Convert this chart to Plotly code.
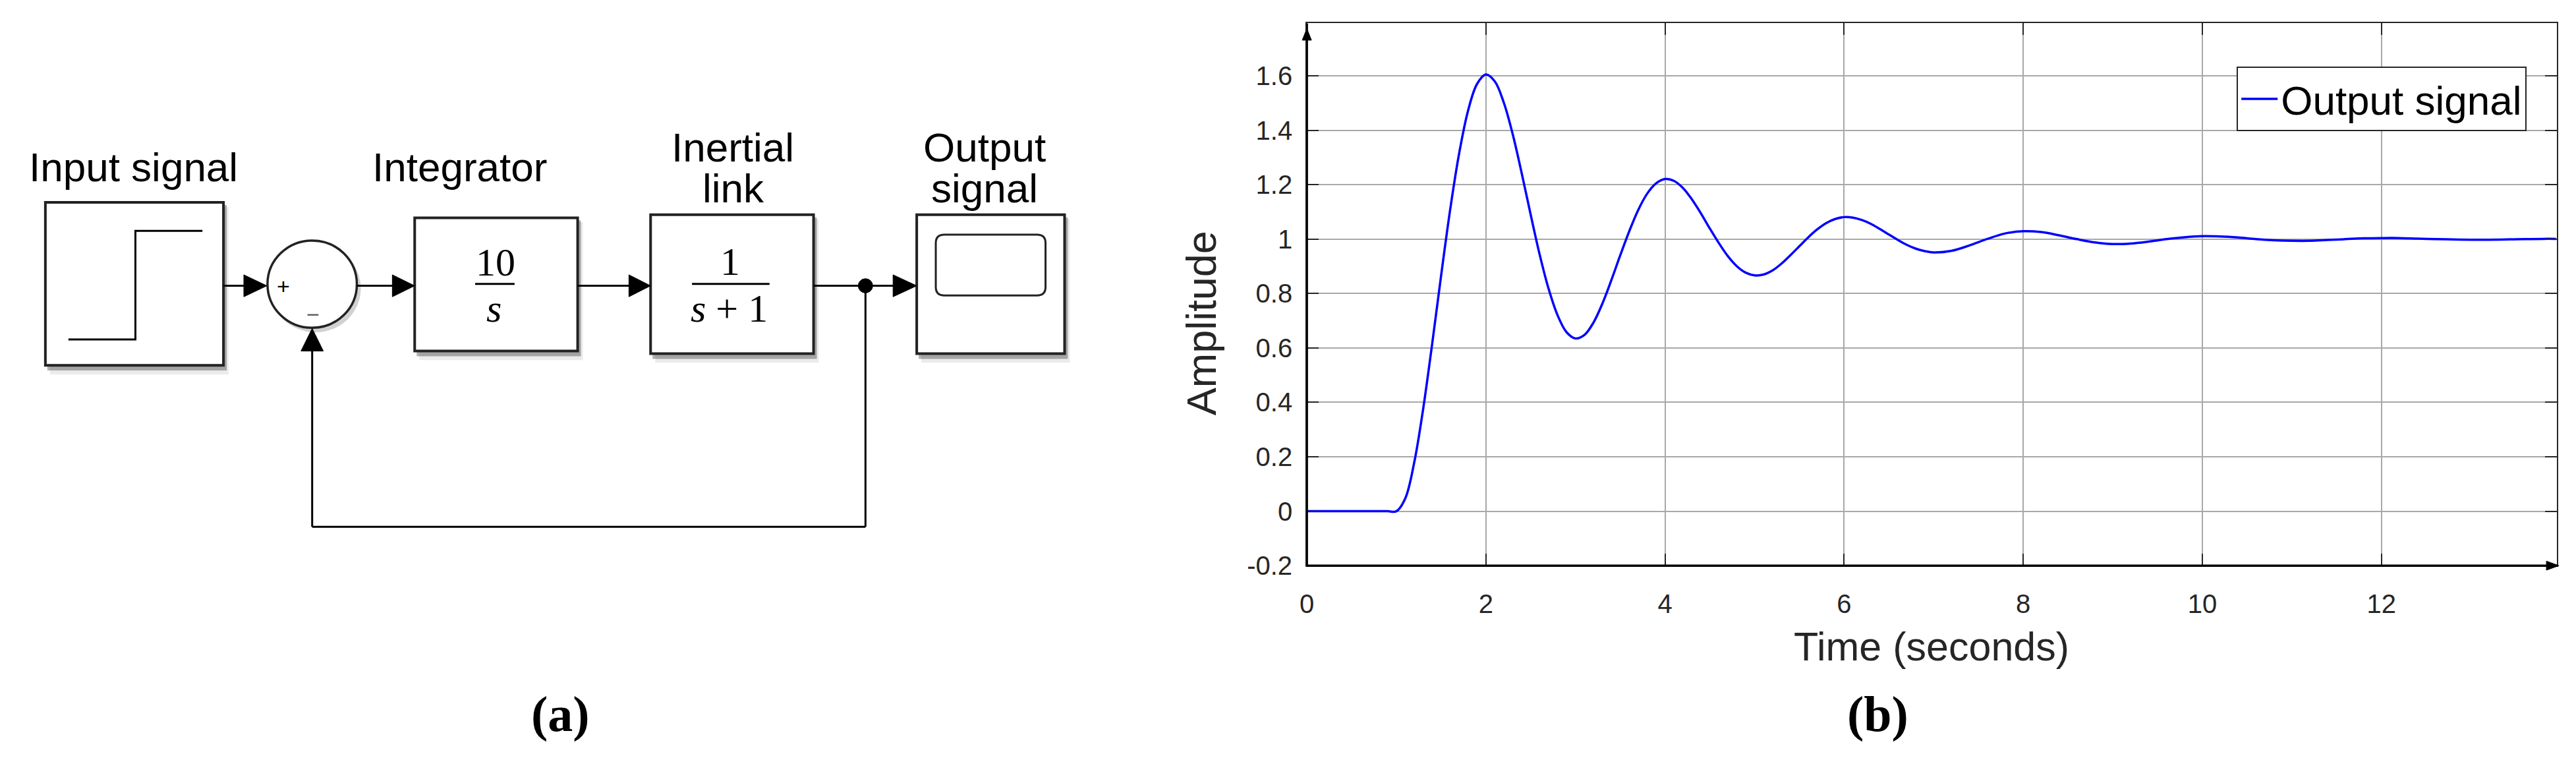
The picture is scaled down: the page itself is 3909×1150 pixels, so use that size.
import plotly.graph_objects as go

# ---------------- data ----------------
time_s = [0, 0.5, 0.9,
          1.0, 1.1, 1.2, 1.3, 1.4, 1.5, 1.6, 1.7, 1.8, 1.9,
          2.0, 2.1, 2.2, 2.3, 2.4, 2.5, 2.6, 2.7, 2.8, 2.9,
          3.0, 3.1, 3.2, 3.3, 3.4, 3.5, 3.6, 3.7, 3.8, 3.9,
          4.0, 4.1, 4.2, 4.3, 4.4, 4.5, 4.6, 4.7, 4.8, 4.9,
          5.0, 5.1, 5.2, 5.3, 5.4, 5.5, 5.6, 5.7, 5.8, 5.9,
          6.0, 6.1, 6.2, 6.3, 6.4, 6.5, 6.6, 6.7, 6.8, 6.9,
          7.0, 7.2, 7.4, 7.6, 7.8, 8.0, 8.2, 8.4, 8.6, 8.8,
          9.0, 9.2, 9.4, 9.6, 9.8, 10.0, 10.2, 10.4, 10.6, 10.8,
          11.0, 11.2, 11.4, 11.6, 11.8, 12.0, 12.2, 12.4, 12.6, 12.8,
          13.0, 13.2, 13.4, 13.6, 13.8, 13.95]
amplitude = [0, 0, 0,
             0, 0.048, 0.181, 0.379, 0.617, 0.868, 1.108, 1.314, 1.472, 1.570,
             1.605, 1.579, 1.501, 1.384, 1.241, 1.089, 0.943, 0.817, 0.720, 0.658,
             0.635, 0.648, 0.693, 0.763, 0.849, 0.941, 1.029, 1.107, 1.167, 1.205,
             1.221, 1.214, 1.188, 1.146, 1.095, 1.039, 0.986, 0.938, 0.901, 0.877,
             0.867, 0.870, 0.885, 0.910, 0.941, 0.974, 1.007, 1.036, 1.059, 1.074,
             1.081, 1.079, 1.070, 1.056, 1.037, 1.017, 0.997, 0.979, 0.965, 0.956,
             0.951, 0.957, 0.977, 1.001, 1.021, 1.029, 1.026, 1.014, 1.000, 0.988,
             0.982, 0.984, 0.991, 1.000, 1.007, 1.011, 1.010, 1.006, 1.000, 0.996,
             0.994, 0.994, 0.997, 1.000, 1.003, 1.004, 1.004, 1.002, 1.000, 0.999,
             0.998, 0.998, 0.999, 1.000, 1.001, 1.001]
series_name = "Output signal"
x_ticks = [0, 2, 4, 6, 8, 10, 12]
x_ticktext = ["0", "2", "4", "6", "8", "10", "12"]
y_ticks = [-0.2, 0, 0.2, 0.4, 0.6, 0.8, 1.0, 1.2, 1.4, 1.6]
y_ticktext = ["-0.2", "0", "0.2", "0.4", "0.6", "0.8", "1", "1.2", "1.4", "1.6"]
x_title = "Time (seconds)"
y_title = "Amplitude"
block_labels = ["Input signal", "Integrator", "Inertial", "link", "Output", "signal"]
panel_labels = ["(a)", "(b)"]

# page is 3909x1150; the html body has an 8 px margin, so the figure is
# placed at (8, 8) and sized to end inside the window
OFF = 8
FW, FH = 3909 - 2 * OFF, 1150 - 2 * OFF
SANS = "Liberation Sans, Arial, Helvetica, sans-serif"
SERIF = "Liberation Serif, Times New Roman, serif"
INK = "#222222"


def fx(p):  # page pixel -> paper fraction (x)
    return (p - OFF) / FW


def fy(p):  # page pixel -> paper fraction (y)
    return 1 - (p - OFF) / FH


# plot area in page pixels
PL, PR, PT, PB = 1977.7, 3880.0, 36.0, 875.0

fig = go.Figure()
fig.add_trace(go.Scatter(
    x=time_s, y=amplitude, mode="lines", name=series_name,
    line=dict(color="#0000ff", width=3.5, shape="spline", smoothing=1.0),
    xaxis="x", yaxis="y"))

shapes = []
annotations = []


def P(**kw):
    d = dict(xref="x2", yref="y2", layer="above")
    d.update(kw)
    return d


def box(x0, y0, x1, y1):
    shapes.append(P(type="rect", x0=x0 + 7, y0=y0 + 7, x1=x1 + 8, y1=y1 + 14,
                    fillcolor="rgba(0,0,0,0.08)", line=dict(width=0)))
    shapes.append(P(type="rect", x0=x0 + 3, y0=y0 + 4, x1=x1 + 5, y1=y1 + 8,
                    fillcolor="rgba(0,0,0,0.30)", line=dict(width=0)))
    shapes.append(P(type="rect", x0=x0, y0=y0, x1=x1, y1=y1,
                    fillcolor="white", line=dict(color=INK, width=4)))


def seg(x0, y0, x1, y1, w=3):
    shapes.append(P(type="line", x0=x0, y0=y0, x1=x1, y1=y1,
                    line=dict(color="black", width=w)))


def arrow_right(xb, xt, y, hh=17):
    shapes.append(P(type="path", path=f"M{xb},{y-hh} L{xt},{y} L{xb},{y+hh} Z",
                    fillcolor="black", line=dict(color="black", width=1)))


def text(x, y, s, size, family=SANS, color="black", angle=0):
    annotations.append(dict(xref="x2", yref="y2", x=x, y=y, text=s, showarrow=False,
                            xanchor="center", yanchor="middle", textangle=angle,
                            font=dict(family=family, size=size, color=color)))


YL = 442  # signal line level
# blocks
box(58, 313, 329, 565)
box(620, 337, 868, 543)
box(979, 332, 1227, 547)
box(1384, 332, 1609, 547)
# step symbol
shapes.append(P(type="path", path="M93,525 L195,525 L195,357 L297,357",
                line=dict(color="black", width=3)))
# sum circle
shapes.append(P(type="circle", x0=400, y0=378, x1=538, y1=514,
                fillcolor="rgba(0,0,0,0.18)", line=dict(width=0)))
shapes.append(P(type="circle", x0=396, y0=372, x1=532, y1=507,
                fillcolor="white", line=dict(color=INK, width=3.5)))
# scope screen
shapes.append(P(type="path",
                path="M1426,363 L1567,363 Q1580,363 1580,376 L1580,444 Q1580,457 1567,457 "
                     "L1426,457 Q1413,457 1413,444 L1413,376 Q1413,363 1426,363 Z",
                fillcolor="white", line=dict(color=INK, width=3)))
# forward path
seg(329, YL, 362, YL); arrow_right(360, 395, YL)
seg(532, YL, 588, YL); arrow_right(586, 620, YL)
seg(868, YL, 948, YL); arrow_right(946, 979, YL)
seg(1227, YL, 1350, YL); arrow_right(1348, 1384, YL)
shapes.append(P(type="circle", x0=1295, y0=431, x1=1317, y1=453,
                fillcolor="black", line=dict(color="black", width=1)))
# feedback path
seg(1306, YL, 1306, 815)
seg(1306, 815, 464, 815)
seg(464, 815, 464, 541)
shapes.append(P(type="path", path="M447,543 L464,508 L481,543 Z",
                fillcolor="black", line=dict(color="black", width=1)))
# fraction bars
seg(712, 439, 772, 439, 3)
seg(1042, 439, 1160, 439, 3)

# block texts
text(192, 258, block_labels[0], 62)
text(688, 258, block_labels[1], 62)
text(1104, 228, block_labels[2], 62)
text(1105, 291, block_labels[3], 62)
text(1487, 228, block_labels[4], 62)
text(1487, 291, block_labels[5], 62)
text(743, 406, "10", 60, SERIF)
text(741, 477, "<i>s</i>", 60, SERIF)
text(1100, 405, "1", 60, SERIF)
text(1099, 477, "<i>s</i> + 1", 60, SERIF)
text(420, 442, "+", 34)
text(465, 486, "\u2212", 34, color="#666666")

# axis decorations for plot (b)
seg(PL, PB, PL, PT, 3.5)
seg(PL, PB, PR, PB, 3.5)
shapes.append(P(type="path", path=f"M{PL-7},{62} L{PL},{44} L{PL+7},{62} Z",
                fillcolor="black", line=dict(color="black", width=1)))
shapes.append(P(type="path", path=f"M{PR-16},{PB-7} L{PR+3},{PB} L{PR-16},{PB+7} Z",
                fillcolor="black", line=dict(color="black", width=1)))
text(1818, 500, y_title, 63, color="#262626", angle=-90)
text(2928, 1000, x_title, 61, color="#262626")

# panel labels
text(842, 1105, f"<b>{panel_labels[0]}</b>", 76, SERIF)
text(2847, 1105, f"<b>{panel_labels[1]}</b>", 76, SERIF)

fig.update_layout(
    width=FW, height=FH,
    margin=dict(l=0, r=0, t=0, b=0),
    paper_bgcolor="white", plot_bgcolor="rgba(0,0,0,0)",
    showlegend=True,
    legend=dict(x=fx(3834), y=fy(103), xanchor="right", yanchor="top",
                bgcolor="white", bordercolor="#262626", borderwidth=2,
                itemwidth=55,
                font=dict(family=SANS, size=62, color="black")),
    xaxis=dict(domain=[fx(PL), fx(PR)], range=[0, 13.96], anchor="y",
               tickmode="array", tickvals=x_ticks, ticktext=x_ticktext,
               ticks="inside", ticklen=18, tickwidth=2, tickcolor="#262626",
               showgrid=True, gridcolor="#a8a8a8", gridwidth=1.5, zeroline=False,
               showline=True, linecolor="#262626", linewidth=2, mirror="allticks",
               tickfont=dict(family=SANS, size=40, color="#262626"),
               ticklabelstandoff=22),
    yaxis=dict(domain=[fy(PB), fy(PT)], range=[-0.2, 1.793], anchor="x",
               tickmode="array", tickvals=y_ticks, ticktext=y_ticktext,
               ticks="inside", ticklen=18, tickwidth=2, tickcolor="#262626",
               showgrid=True, gridcolor="#a8a8a8", gridwidth=1.5, zeroline=False,
               showline=True, linecolor="#262626", linewidth=2, mirror="allticks",
               tickfont=dict(family=SANS, size=40, color="#262626"),
               ticklabelstandoff=12),
    xaxis2=dict(domain=[0, 1], range=[OFF, OFF + FW], anchor="y2", visible=False,
                fixedrange=True),
    yaxis2=dict(domain=[0, 1], range=[OFF + FH, OFF], anchor="x2", visible=False,
                fixedrange=True),
    shapes=shapes,
    annotations=annotations,
)

fig.write_html("out.html")
